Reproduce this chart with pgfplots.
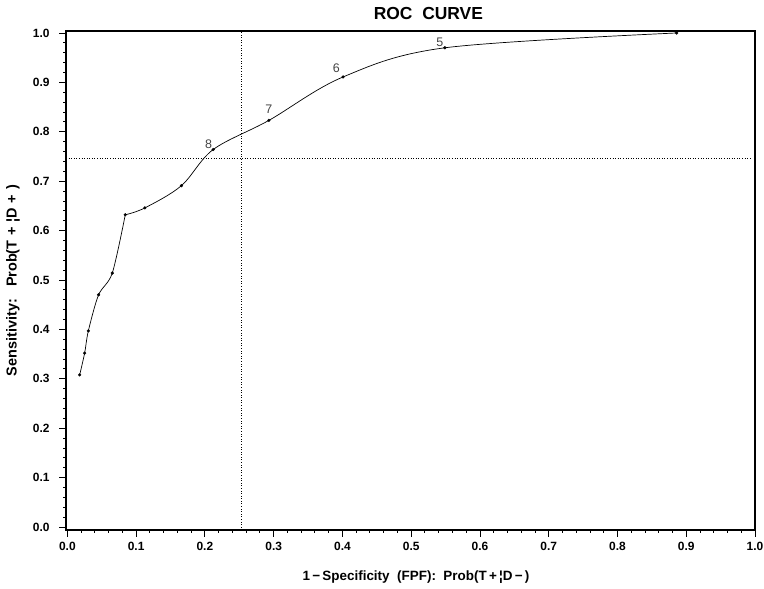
\documentclass[border=0pt]{standalone}
\usepackage{pgfplots}
\pgfplotsset{compat=1.18}
\usepackage{fontspec}
\setmainfont{Liberation Sans}
\definecolor{lblgray}{HTML}{444444}
\begin{document}
\begin{tikzpicture}
\begin{axis}[
  name=ax,
  scale only axis,
  width=689bp, height=499bp,
  xmin=-0.002, xmax=1.0, ymin=-0.006, ymax=1.004,
  xtick={0,0.1,0.2,0.3,0.4,0.5,0.6,0.7,0.8,0.9,1},
  ytick={0,0.1,0.2,0.3,0.4,0.5,0.6,0.7,0.8,0.9,1},
  minor tick num=4,
  tick pos=left, tick align=outside,
  major tick length=7bp, minor tick length=3bp,
  axis line style={line width=1.1pt},
  tick style={line width=0.9pt, black},
  /pgf/number format/assume math mode=true,
  xticklabel={\pgfmathprintnumber[fixed,fixed zerofill,precision=1]{\tick}},
  yticklabel={\pgfmathprintnumber[fixed,fixed zerofill,precision=1]{\tick}},
  ticklabel style={font=\fontsize{12}{14}\selectfont\bfseries},
  yticklabel style={xshift=-6bp},
  xticklabel style={yshift=-2bp},
  title={ROC\ \ CURVE},
  title style={font=\fontsize{17.5}{20}\selectfont\bfseries, at={(axis description cs:0.526,1)}, anchor=base, yshift=6bp},
  xlabel={1\,−\,Specificity\ \ (FPF):\ \ Prob(T\,+\,¦D\,−\,)},
  ylabel={Sensitivity:\ \ \ Prob(T\,\,+\,\,¦D\,\,+\,\,)},
  xlabel style={font=\fontsize{13.5}{16}\selectfont\bfseries, at={(axis description cs:0.508,0)}, anchor=base, yshift=-50bp},
  ylabel style={font=\fontsize{14.5}{16}\selectfont\bfseries, at={(axis description cs:-0.077,0.5)}, anchor=center},
  clip=false,
]
\addplot[black, line width=0.6pt, dotted, forget plot] coordinates {(0.2535,-0.006) (0.2535,1.004)};
\addplot[black, line width=0.6pt, dotted, forget plot] coordinates {(-0.002,0.747) (0.993,0.747)};
% curve drawn in two smooth pieces joined at the 0.632 point
\addplot[black, line width=0.7pt, smooth, tension=0.5, no marks, forget plot] coordinates {
(0.0179,0.308) (0.0251,0.352) (0.0305,0.397) (0.0454,0.470) (0.0653,0.514) (0.0842,0.632)
};
\addplot[black, line width=0.7pt, smooth, tension=0.55, no marks, forget plot] coordinates {
(0.0842,0.632) (0.1128,0.646) (0.1659,0.691) (0.212,0.764) (0.293,0.823)
(0.401,0.911) (0.549,0.970) (0.886,1.000)
};
\addplot[only marks, black, mark=*, mark size=1.4pt, forget plot] coordinates {
(0.0179,0.308) (0.0251,0.352) (0.0305,0.397) (0.0454,0.470) (0.0653,0.514)
(0.0842,0.632) (0.1128,0.646) (0.1659,0.691) (0.212,0.764) (0.293,0.823)
(0.401,0.911) (0.549,0.970) (0.886,1.000)
};
\node[lblgray, font=\fontsize{12.5}{14}\selectfont, anchor=south east, inner sep=1pt] at (axis cs:0.212,0.764) {8};
\node[lblgray, font=\fontsize{12.5}{14}\selectfont, anchor=south, inner sep=1pt] at (axis cs:0.293,0.835) {7};
\node[lblgray, font=\fontsize{12.5}{14}\selectfont, anchor=south east, inner sep=1pt] at (axis cs:0.398,0.918) {6};
\node[lblgray, font=\fontsize{12.5}{14}\selectfont, anchor=south east, inner sep=0pt] at (axis cs:0.547,0.972) {5};
\end{axis}
\pgfresetboundingbox
\path[use as bounding box] ([shift={(-66bp,-59bp)}]ax.south west) rectangle ([shift={(9bp,31bp)}]ax.north east);
\end{tikzpicture}
\end{document}
